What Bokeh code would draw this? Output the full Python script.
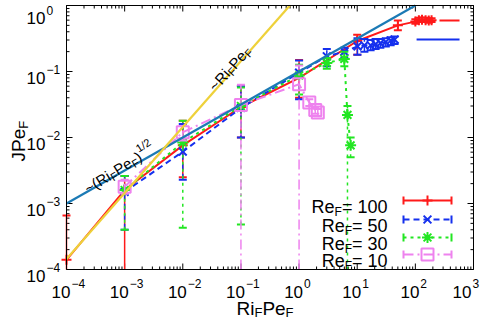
import math
from bokeh.plotting import figure
from bokeh.models import Range1d, LinearScale, Label
from bokeh.core.properties import value
from bokeh.embed import file_html
from bokeh.resources import INLINE

# ---------------- data ----------------
re100_x = [1e-4, 1e-3, 1e-2, 1e-1, 1.0, 10.0, 50.0, 100.0, 115.0, 130.0, 150.0, 170.0, 190.0]
re100_y = [1.4e-4, 1.6e-3, 7.6e-3, 2.9e-2, 8.0e-2, 0.29, 0.50, 0.57, 0.60, 0.61, 0.60, 0.59, 0.60]
re100_lo = [1e-4, 1e-4, 2.5e-3, 1.0e-2, 4.0e-2, 0.18, 0.42, 0.53, 0.56, 0.56, 0.56, 0.55, 0.56]
re100_hi = [6.6e-4, 2.6e-3, 1.8e-2, 6.0e-2, 0.15, 0.36, 0.59, 0.62, 0.65, 0.66, 0.65, 0.64, 0.64]

re50_x = [1e-3, 1e-2, 1e-1, 1.0, 3.0, 6.0, 10.1, 13.3, 17.0, 20.7, 25.0, 31.0, 37.6, 44.0]
re50_y = [1.5e-3, 6.1e-3, 2.8e-2, 9.6e-2, 0.17, 0.20, 0.24, 0.25, 0.25, 0.26, 0.27, 0.28, 0.295, 0.305]
re50_lo = [4e-4, 2.3e-3, 1.0e-2, 3.8e-2, 0.12, 0.16, 0.18, 0.20, 0.21, 0.22, 0.23, 0.24, 0.25, 0.26]
re50_hi = [2.6e-3, 1.6e-2, 6.0e-2, 0.147, 0.22, 0.23, 0.32, 0.31, 0.30, 0.31, 0.31, 0.32, 0.33, 0.34]

re30_x = [1e-3, 1e-2, 1e-1, 1.0, 3.0, 6.0, 6.8, 7.7]
re30_y = [1.6e-3, 8.4e-3, 3.0e-2, 8.7e-2, 0.135, 0.155, 0.022, 0.0076]
re30_lo = [4e-4, 4.3e-4, 4.8e-4, 4.5e-2, 0.11, 0.12, 1e-4, 0.005]
re30_hi = [2.6e-3, 1.8e-2, 5.7e-2, 0.127, 0.16, 0.20, 0.03, 0.010]

re10_x = [1e-3, 1e-2, 1e-1, 1.0, 1.5, 1.9, 2.1]
re10_y = [1.8e-3, 1.2e-2, 3.1e-2, 6.4e-2, 0.034, 0.026, 0.024]
re10_lo = [1.4e-3, 9e-3, 1e-4, 1e-4, 0.030, 0.023, 0.021]
re10_hi = [2.3e-3, 1.5e-2, 6.3e-2, 0.123, 0.038, 0.029, 0.027]

sqrt_x = [1e-4, 1e2]
sqrt_y = [1e-3, 1.0]
lin_x = [1e-4, 0.694]
lin_y = [1.44e-4, 1.0]

tail_x0 = [260.0, 105.0]
tail_x1 = [575.0, 575.0]
tail_y = [0.59, 0.305]

x_ticks = [1e-4, 1e-3, 1e-2, 1e-1, 1e0, 1e1, 1e2, 1e3]
y_ticks = [1e-4, 1e-3, 1e-2, 1e-1, 1e0]
legend_labels = ["100", "50", "30", "10"]

RED = "#ff1a1a"
BLUE = "#1530ee"
GREEN = "#22e622"
VIOLET = "#ee82ee"
FITBLUE = "#1b7ab5"
YELLOW = "#eed13a"
FONT = "Liberation Sans"

# ---------------- layout (page pixels) ----------------
CW, CH = 483, 319
PL, PR, PT, PB = 74, 481, 13, 277          # plot box in page pixels
DX = (PR - PL) / (len(x_ticks) - 1)
DY = (PB - PT) / (len(y_ticks) - 1)

def PX(X):
    return X - 8

def PY(Y):
    return 8 + CH - Y

lx0, lx1 = math.log10(x_ticks[0]), math.log10(x_ticks[-1])
ly0, ly1 = math.log10(y_ticks[0]), math.log10(y_ticks[-1])
x_range = Range1d(10 ** (lx0 - (PL - 8) / DX), 10 ** (lx1 + (8 + CW - PR) / DX))
y_range = Range1d(10 ** (ly0 - (8 + CH - PB) / DY), 10 ** (ly1 + (PT - 8) / DY))

p = figure(width=CW, height=CH, x_axis_type="log", y_axis_type="log",
           x_axis_location=None, y_axis_location=None,
           x_range=x_range, y_range=y_range, min_border=0,
           output_backend="svg", toolbar_location=None)
p.extra_x_ranges = {"px": Range1d(0, CW)}
p.extra_y_ranges = {"px": Range1d(0, CH)}
p.extra_x_scales = {"px": LinearScale()}
p.extra_y_scales = {"px": LinearScale()}
p.grid.visible = False
p.outline_line_color = None
p.background_fill_color = "white"
p.border_fill_color = "white"

def minor(ticks):
    return [m * t for t in ticks[:-1] for m in range(2, 10)]

x_minor = minor(x_ticks)
y_minor = minor(y_ticks)

# ---------------- ticks on all four sides ----------------
for ticks, ln in ((x_ticks, 6), (x_minor, 3)):
    n = len(ticks)
    p.segment(x0=ticks, y0=[PY(PB)] * n, x1=ticks, y1=[PY(PB) + ln] * n,
              line_color="black", line_width=1, y_range_name="px")
    p.segment(x0=ticks, y0=[PY(PT)] * n, x1=ticks, y1=[PY(PT) - ln] * n,
              line_color="black", line_width=1, y_range_name="px")
for ticks, ln in ((y_ticks, 6), (y_minor, 3)):
    n = len(ticks)
    p.segment(x0=[PX(PL)] * n, y0=ticks, x1=[PX(PL) + ln] * n, y1=ticks,
              line_color="black", line_width=1, x_range_name="px")
    p.segment(x0=[PX(PR)] * n, y0=ticks, x1=[PX(PR) - ln] * n, y1=ticks,
              line_color="black", line_width=1, x_range_name="px")

# tick labels 10^n
def expo(t):
    e = int(round(math.log10(t)))
    return str(e).replace("-", "\u2212")

nx, ny = len(x_ticks), len(y_ticks)
# keep the outermost labels inside the canvas
x_off10 = [4] * (nx - 1) + [-2]
x_offex = [5] * (nx - 1) + [-1]
y_off10 = [6] * (ny - 1) + [12.5]
y_offex = [-2] * (ny - 1) + [4.5]
p.text(x=x_ticks, y=[PY(299)] * nx, text=["10"] * nx, y_range_name="px", x_offset=x_off10,
       text_align="right", text_baseline="alphabetic", text_font=value(FONT),
       text_font_size="17px", text_color="black")
p.text(x=x_ticks, y=[PY(291)] * nx, text=[expo(t) for t in x_ticks], y_range_name="px",
       x_offset=x_offex, text_align="left", text_baseline="alphabetic", text_font=value(FONT),
       text_font_size="12px", text_color="black")
p.text(x=[PX(53)] * ny, y=y_ticks, text=["10"] * ny, x_range_name="px", y_offset=y_off10,
       text_align="right", text_baseline="alphabetic", text_font=value(FONT),
       text_font_size="17px", text_color="black")
p.text(x=[PX(54)] * ny, y=y_ticks, text=[expo(t) for t in y_ticks], x_range_name="px",
       y_offset=y_offex, text_align="left", text_baseline="alphabetic", text_font=value(FONT),
       text_font_size="12px", text_color="black")

# ---------------- series ----------------
floor = y_ticks[0]

def series(xs, ys, lo, hi, color, dash, marker, msize):
    p.line(xs, ys, line_color=color, line_width=2, line_dash=dash)
    p.segment(x0=xs, y0=lo, x1=xs, y1=hi, line_color=color, line_width=1.5, line_dash=dash)
    cx = [x for x, l in zip(xs, lo) if l > floor]
    cl = [l for l in lo if l > floor]
    p.scatter(cx, cl, marker="dash", size=8, line_color=color, line_width=2)
    p.scatter(xs, hi, marker="dash", size=8, line_color=color, line_width=2)
    p.scatter(xs, ys, marker=marker, size=msize, line_color=color, line_width=2, fill_alpha=0)

series(re100_x, re100_y, re100_lo, re100_hi, RED, "solid", "cross", 10)
series(re50_x, re50_y, re50_lo, re50_hi, BLUE, "6 4", "x", 11)
series(re30_x, re30_y, re30_lo, re30_hi, GREEN, "3 4", "asterisk", 11)
series(re10_x, re10_y, re10_lo, re10_hi, VIOLET, "10 4 2 4", "square", 12)

p.segment(x0=tail_x0, y0=tail_y, x1=tail_x1, y1=tail_y, line_color=[RED, BLUE], line_width=2)

p.line(sqrt_x, sqrt_y, line_color=FITBLUE, line_width=2.2)
p.line(lin_x, lin_y, line_color=YELLOW, line_width=2.2)

# plot border
p.quad(left=[x_ticks[0]], right=[x_ticks[-1]], bottom=[y_ticks[0]], top=[y_ticks[-1]],
       fill_color=None, line_color="black", line_width=1)

# ---------------- rich text helper ----------------
WID = {' ': 278, '(': 333, ')': 333, '~': 584, '=': 584, '/': 278, 'R': 722, 'i': 222,
       'F': 611, 'P': 667, 'e': 556, 'J': 500}

def tw(s, size):
    return sum(WID.get(c, 556) for c in s) * size / 1000.0

def rich(pieces, X, Y, deg=0.0, color="black"):
    """Pieces (text, size, drop) along a (rotated) baseline from page pixel (X, Y)."""
    a = math.radians(deg)
    ux, uy = math.cos(a), math.sin(a)
    nx_, ny_ = math.sin(a), -math.cos(a)
    x0, y0 = PX(X), PY(Y)
    adv = 0.0
    for text, size, dy in pieces:
        p.add_layout(Label(x=x0 + adv * ux + dy * nx_, y=y0 + adv * uy + dy * ny_,
                           x_units="screen", y_units="screen", text=text, angle=a,
                           text_font=FONT, text_font_size=f"{size}px", text_color=color,
                           text_align="left", text_baseline="alphabetic"))
        adv += tw(text, size)
    return adv

# axis titles
rich([("Ri", 19, 0), ("F", 13, 4), ("Pe", 19, 0), ("F", 13, 4)], 244, 316)
rich([("JPe", 19, 0), ("F", 13, 5)], 26, 169, 90)

# fit-line annotations
rich([("~(Ri", 15, 0), ("F", 11, 4), ("Pe", 15, 0), ("F", 11, 4), (")", 15, 0), ("1/2", 11, -7)],
     93, 197, 32)
rich([("~Ri", 15, 0), ("F", 11, 4), ("Pe", 15, 0), ("F", 11, 4)], 219, 96, 48)

# ---------------- legend ----------------
row_y = [208, 227, 245, 262]
styles = [(RED, "solid", "cross", 10), (BLUE, "6 4", "x", 11),
          (GREEN, "3 4", "asterisk", 11), (VIOLET, "10 4 2 4", "square", 12)]
for lab, ry, (col, dash, mk, ms) in zip(legend_labels, row_y, styles):
    pieces = [("Re", 18, 0), ("F", 12, 5), (" = " + lab, 18, 0)]
    total = sum(tw(t, s) for t, s, _ in pieces)
    rich(pieces, 400 - total, ry + 6)
    py = PY(ry)
    p.segment(x0=[PX(411)], y0=[py], x1=[PX(459)], y1=[py], line_color=col, line_width=2,
              line_dash=dash, x_range_name="px", y_range_name="px")
    p.segment(x0=[PX(411), PX(459)], y0=[py - 4, py - 4], x1=[PX(411), PX(459)], y1=[py + 4, py + 4],
              line_color=col, line_width=2, x_range_name="px", y_range_name="px")
    p.scatter([PX(435)], [py], marker=mk, size=ms, line_color=col, line_width=2, fill_alpha=0,
              x_range_name="px", y_range_name="px")

open("out.html", "w").write(file_html(p, INLINE))
